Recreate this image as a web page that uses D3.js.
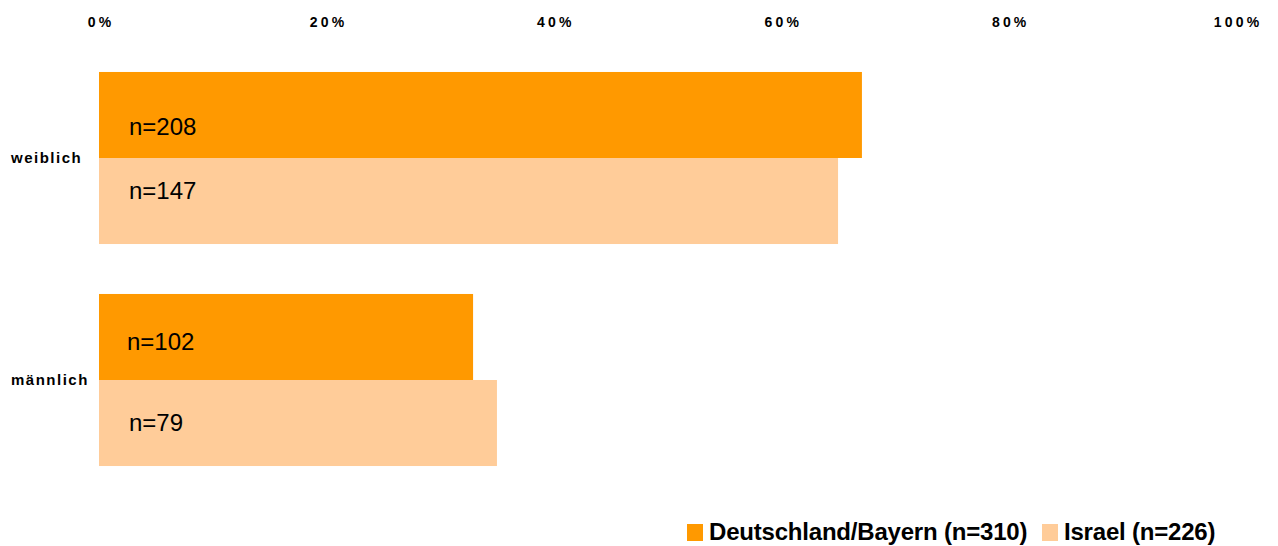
<!DOCTYPE html>
<html>
<head>
<meta charset="utf-8">
<script src="https://cdn.jsdelivr.net/npm/d3@7"></script>
<style>
  html, body { margin: 0; padding: 0; background: #fff; }
  svg { display: block; font-family: "Liberation Sans", Arial, sans-serif; }
</style>
</head>
<body>
<svg id="chart" width="1278" height="546"></svg>
<script>
// Categories (top to bottom) and the two survey groups
const categories = ["weiblich", "männlich"];
const seriesNames = ["Deutschland/Bayern (n=310)", "Israel (n=226)"];
// Share of respondents in percent, per category
const deValues = [67.1, 32.9];
const ilValues = [65.0, 35.0];
// Case counts shown inside the bars
const deCounts = ["n=208", "n=102"];
const ilCounts = ["n=147", "n=79"];
const tickValues = [0, 20, 40, 60, 80, 100];
const tickLabels = ["0%", "20%", "40%", "60%", "80%", "100%"];

const colors = ["#FF9900", "#FFCC99"];

const svg = d3.select("#chart");

const x = d3.scaleLinear().domain([0, 100]).range([99, 1236]);
const y = d3.scaleBand().domain(categories).range([47, 491])
  .paddingInner(0.225).paddingOuter(0.1125);
const sub = d3.scaleBand().domain([0, 1]).range([0, y.bandwidth()]);

const rows = categories.map((c, i) => ({
  cat: c,
  vals: [
    { s: 0, v: deValues[i], n: deCounts[i] },
    { s: 1, v: ilValues[i], n: ilCounts[i] }
  ]
}));

// Percentage axis along the top
const axis = d3.axisTop(x).tickValues(tickValues)
  .tickFormat((d, i) => tickLabels[i]).tickSize(0).tickPadding(0);
const ax = svg.append("g").attr("transform", "translate(0,27)").call(axis);
ax.select(".domain").remove();
ax.selectAll("text")
  .attr("font-family", "Liberation Sans, Arial, sans-serif")
  .attr("font-size", 14).attr("font-weight", "bold")
  .attr("letter-spacing", "3.2px").attr("dx", "1.6px")
  .attr("fill", "#000");

// Bars
const groups = svg.selectAll("g.cat").data(rows).join("g")
  .attr("class", "cat")
  .attr("transform", d => `translate(0,${y(d.cat)})`);

groups.selectAll("rect").data(d => d.vals).join("rect")
  .attr("x", x(0))
  .attr("y", d => sub(d.s))
  .attr("width", d => x(d.v) - x(0))
  .attr("height", sub.bandwidth())
  .attr("fill", d => colors[d.s]);

// Count labels inside the bars
const labelOffsets = [[63, 41], [56, 51]];
groups.each(function (d, ci) {
  d3.select(this).selectAll("text.n").data(d.vals).join("text")
    .attr("class", "n")
    .attr("x", (v) => x(0) + (ci === 1 && v.s === 0 ? 28 : 30))
    .attr("y", v => sub(v.s) + labelOffsets[ci][v.s])
    .attr("font-size", 24)
    .attr("fill", "#000")
    .text(v => v.n);
});

// Category labels
svg.selectAll("text.cat").data(categories).join("text")
  .attr("class", "cat")
  .attr("x", 11)
  .attr("y", d => y(d) + y.bandwidth() / 2 + 5)
  .attr("font-size", 15).attr("font-weight", "bold")
  .attr("letter-spacing", "1.5px")
  .attr("fill", "#000")
  .text(d => d);

// Legend
const legend = svg.append("g").attr("class", "legend");
const legendX = [687, 1042];
seriesNames.forEach((name, i) => {
  legend.append("rect")
    .attr("x", legendX[i]).attr("y", 524)
    .attr("width", 16).attr("height", 17)
    .attr("fill", colors[i]);
  legend.append("text")
    .attr("x", legendX[i] + 22).attr("y", 540)
    .attr("font-size", 24).attr("font-weight", "bold")
    .attr("letter-spacing", "-0.2px")
    .attr("fill", "#000")
    .text(name);
});
</script>
</body>
</html>
